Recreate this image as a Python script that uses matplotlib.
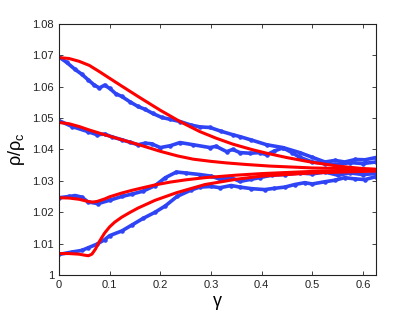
import numpy as np
import matplotlib
matplotlib.use('Agg')
import matplotlib.pyplot as plt

plt.rcParams['font.family'] = ['Liberation Sans', 'DejaVu Sans']
plt.rcParams['mathtext.fontset'] = 'custom'
plt.rcParams['mathtext.rm'] = 'Liberation Sans'

# simulation (noisy, blue)
gA = [0, 0.015, 0.032, 0.045, 0.057, 0.07, 0.08, 0.09, 0.1, 0.112, 0.124, 0.14, 0.156, 0.17,
      0.185, 0.203, 0.22, 0.239, 0.26, 0.278, 0.298, 0.32, 0.343, 0.357, 0.38, 0.41, 0.442,
      0.475, 0.5, 0.525, 0.545, 0.564, 0.585, 0.604, 0.625]
sA = [1.0695, 1.0678, 1.0655, 1.064, 1.0623, 1.0605, 1.0596, 1.0605, 1.0595, 1.0578, 1.0569,
      1.0552, 1.0537, 1.0528, 1.0515, 1.0502, 1.0496, 1.0489, 1.0478, 1.0472, 1.047, 1.0458,
      1.0447, 1.0441, 1.043, 1.0415, 1.0406, 1.039, 1.0375, 1.036, 1.0365, 1.036, 1.0368,
      1.0367, 1.0374]

gB = [0, 0.026, 0.057, 0.075, 0.09, 0.105, 0.124, 0.14, 0.156, 0.17, 0.183, 0.2, 0.22, 0.239,
      0.265, 0.298, 0.31, 0.331, 0.343, 0.357, 0.377, 0.396, 0.41, 0.425, 0.442, 0.46, 0.475,
      0.5, 0.525, 0.55, 0.575, 0.6, 0.625]
sB = [1.0492, 1.0473, 1.0457, 1.0447, 1.0449, 1.044, 1.0431, 1.0423, 1.0415, 1.042, 1.0418,
      1.0406, 1.0412, 1.0422, 1.0415, 1.0406, 1.041, 1.0393, 1.040, 1.039, 1.0388, 1.039,
      1.0383, 1.0395, 1.0405, 1.039, 1.0375, 1.036, 1.0355, 1.0352, 1.0358, 1.0355, 1.036]

gC = [0, 0.02, 0.032, 0.045, 0.057, 0.077, 0.1, 0.124, 0.145, 0.166, 0.19, 0.21, 0.232, 0.25,
      0.278, 0.3, 0.318, 0.34, 0.357, 0.38, 0.396, 0.42, 0.446, 0.475, 0.5, 0.525, 0.55,
      0.575, 0.6, 0.625]
sC = [1.0246, 1.025, 1.0253, 1.0248, 1.0233, 1.0227, 1.0238, 1.025, 1.0258, 1.0267, 1.0285,
      1.031, 1.0328, 1.0325, 1.032, 1.0315, 1.0305, 1.031, 1.0298, 1.0305, 1.031, 1.0318,
      1.032, 1.0325, 1.0322, 1.0328, 1.0318, 1.0325, 1.032, 1.0323]

gD = [0, 0.026, 0.045, 0.057, 0.075, 0.09, 0.1, 0.124, 0.145, 0.166, 0.19, 0.21, 0.233, 0.26,
      0.278, 0.3, 0.318, 0.34, 0.357, 0.38, 0.406, 0.425, 0.446, 0.465, 0.485, 0.5, 0.525,
      0.545, 0.564, 0.585, 0.604, 0.625]
sD = [1.0065, 1.0073, 1.0078, 1.0086, 1.0098, 1.0112, 1.0125, 1.014, 1.016, 1.018, 1.020,
      1.022, 1.025, 1.027, 1.028, 1.0282, 1.0278, 1.0285, 1.028, 1.0275, 1.0272, 1.0276,
      1.028, 1.0288, 1.0294, 1.029, 1.0297, 1.0302, 1.031, 1.0306, 1.0304, 1.0313]

# theory (smooth, red)
tA = [0, 0.02, 0.04, 0.06, 0.08, 0.1, 0.124, 0.16, 0.2, 0.24, 0.278, 0.31, 0.343, 0.38,
      0.41, 0.45, 0.5, 0.55, 0.6, 0.625]
rA = [1.0693, 1.0690, 1.0681, 1.0668, 1.0648, 1.0627, 1.0602, 1.0565, 1.0525, 1.0488,
      1.0457, 1.0436, 1.0417, 1.0400, 1.0388, 1.0374, 1.0359, 1.0347, 1.0339, 1.0336]

tB = [0, 0.02, 0.04, 0.06, 0.09, 0.124, 0.16, 0.2, 0.235, 0.265, 0.3, 0.331, 0.37, 0.416,
      0.5, 0.625]
rB = [1.0486, 1.0482, 1.0473, 1.0462, 1.0447, 1.0431, 1.0414, 1.0394, 1.0379, 1.0369,
      1.0362, 1.0357, 1.0352, 1.0347, 1.0341, 1.0337]

tC = [0, 0.02, 0.04, 0.055, 0.065, 0.075, 0.09, 0.1, 0.124, 0.145, 0.166, 0.19, 0.22, 0.25,
      0.288, 0.35, 0.4, 0.5, 0.625]
rC = [1.0246, 1.0245, 1.0241, 1.0235, 1.0232, 1.0234, 1.0242, 1.0249, 1.0261, 1.0270,
      1.0278, 1.0287, 1.0296, 1.0303, 1.0310, 1.0318, 1.0323, 1.0330, 1.0334]

tD = [0, 0.02, 0.04, 0.05, 0.058, 0.065, 0.072, 0.08, 0.09, 0.1, 0.11, 0.124, 0.14, 0.156,
      0.19, 0.232, 0.288, 0.35, 0.4, 0.5, 0.625]
rD = [1.0068, 1.0068, 1.0066, 1.0063, 1.0061, 1.0066, 1.0082, 1.0107, 1.0133, 1.0153,
      1.0168, 1.0184, 1.0199, 1.0213, 1.0238, 1.0262, 1.0288, 1.0305, 1.0315, 1.0325, 1.0331]

fig = plt.figure(figsize=(4.15, 3.12), dpi=100)
ax = fig.add_axes([0.142, 0.119, 0.764, 0.804])

blue = '#2f45f5'
for g, s in [(gA, sA), (gB, sB), (gC, sC), (gD, sD)]:
    ax.plot(g, s, color=blue, lw=2.6, marker='.', ms=4.5)
for t, r in [(tA, rA), (tB, rB), (tC, rC), (tD, rD)]:
    ax.plot(t, r, color='red', lw=2.2, solid_capstyle='round', solid_joinstyle='round')

ax.set_xlim(0, 0.6257)
ax.set_ylim(1.0, 1.08)
ax.set_xticks(np.arange(0, 0.61, 0.1))
ax.set_yticks(np.arange(1.0, 1.0801, 0.01))
ax.set_xticklabels(['0', '0.1', '0.2', '0.3', '0.4', '0.5', '0.6'])
ax.set_yticklabels(['1', '1.01', '1.02', '1.03', '1.04', '1.05', '1.06', '1.07', '1.08'])
ax.tick_params(direction='in', top=True, right=True, labelsize=8, length=3, width=0.6,
               colors='#222222')
for sp in ax.spines.values():
    sp.set_linewidth(0.8)
    sp.set_color('#222222')

ax.set_xlabel('γ', fontsize=13, labelpad=2)
ax.set_ylabel(r'ρ/ρ$_{\mathregular{c}}$', fontsize=13, labelpad=4)

fig.savefig('out.png', dpi=100)
